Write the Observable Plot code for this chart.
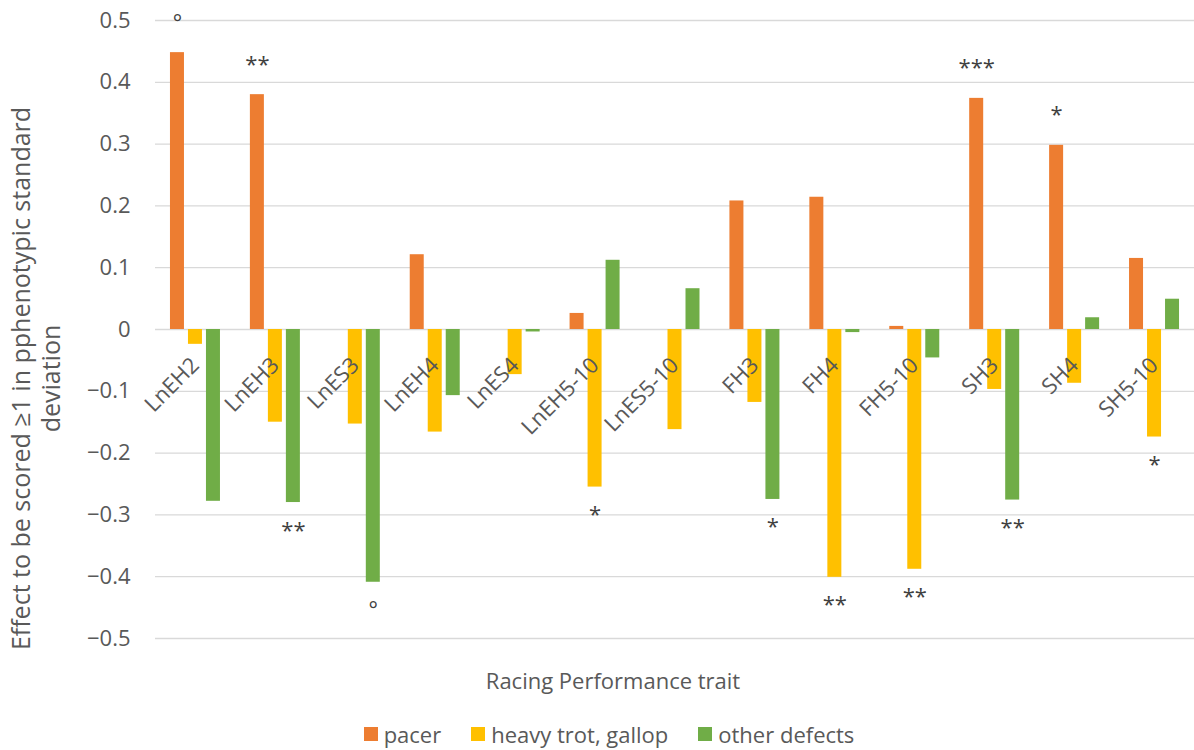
<!DOCTYPE html>
<html><head><meta charset="utf-8">
<script src="https://cdn.jsdelivr.net/npm/d3@7"></script>
<script src="https://cdn.jsdelivr.net/npm/@observablehq/plot@0.6"></script>
<style>
body{margin:0;background:#fff;font-family:"Open Sans",sans-serif;color:#595959;}
#legend{display:flex;justify-content:center;align-items:center;height:28px;margin-top:5px;padding-left:24px;font-size:22px;line-height:28px;}
.item{display:flex;align-items:center;margin:0 15px;}
.sw{width:14px;height:14px;margin-right:6px;}
</style></head><body><div id="chart"></div><div id="legend"></div>
<script>
const traits = ["LnEH2","LnEH3","LnES3","LnEH4","LnES4","LnEH5-10","LnES5-10","FH3","FH4","FH5-10","SH3","SH4","SH5-10"];
const seriesNames = ["pacer","heavy trot, gallop","other defects"];
const pacer        = [0.448, 0.380, 0, 0.121, 0, 0.026, 0, 0.208, 0.214, 0.005, 0.374, 0.298, 0.115];
const heavyTrot    = [-0.024,-0.150,-0.153,-0.166,-0.073,-0.255,-0.162,-0.118,-0.401,-0.388,-0.097,-0.087,-0.174];
const otherDefects = [-0.278,-0.280,-0.409,-0.107,-0.004, 0.112, 0.066,-0.275,-0.005,-0.046,-0.276, 0.019, 0.049];
const seriesValues = [pacer, heavyTrot, otherDefects];
const colors = ["#ED7D31","#FFC000","#70AD47"];
const yTicks = [-0.5,-0.4,-0.3,-0.2,-0.1,0,0.1,0.2,0.3,0.4,0.5];
// significance marks
const sigTrait  = ["LnEH2","LnEH3","LnEH3","LnES3","LnEH5-10","FH3","FH4","FH5-10","SH3","SH3","SH4","SH5-10"];
const sigSeries = [0,0,2,2,1,2,1,1,0,2,0,1];
const sigLabel  = ["°","**","**","°","*","*","**","**","***","**","*","*"];
const yTitle = "Effect to be scored ≥1 in pphenotypic standard\ndeviation";
const xTitle = "Racing Performance trait";

const W = 1194, H = 715, mL = 155, mR = 0, mT = 20, mB = 77;
const barW = 14, step = 18;
const bw = (W - mL - mR) / traits.length;
const inset = (bw - barW) / 2;
const offsets = [-step, 0, step];

const rows = [];
seriesValues.forEach((vals, s) => vals.forEach((v, i) => rows.push({trait: traits[i], series: s, value: v})));
const sigRows = sigTrait.map((t, k) => {
  const s = sigSeries[k];
  return {trait: t, series: s, label: sigLabel[k], value: seriesValues[s][traits.indexOf(t)]};
});

const marks = [
  Plot.ruleY(yTicks, {stroke: "#d9d9d9", strokeWidth: 1.3}),
];
for (let s = 0; s < 3; s++) {
  marks.push(Plot.barY(rows.filter(d => d.series === s), {
    x: "trait", y: "value", fill: colors[s], dx: offsets[s], insetLeft: inset, insetRight: inset
  }));
}
marks.push(Plot.text(traits, {x: d => d, y: 0, text: d => d, rotate: -45, textAnchor: "end", dx: 0, dy: 32, fontSize: 22, fill: "#595959"}));
for (let s = 0; s < 3; s++) {
  marks.push(Plot.text(sigRows.filter(d => d.series === s && d.value > 0), {
    x: "trait", y: "value", text: "label", dx: offsets[s], dy: -30, fontSize: 22, fill: "#404040"
  }));
  marks.push(Plot.text(sigRows.filter(d => d.series === s && d.value < 0), {
    x: "trait", y: "value", text: "label", dx: offsets[s], dy: 28, fontSize: 22, fill: "#404040"
  }));
}
marks.push(Plot.axisY({ticks: yTicks, tickSize: 0, tickPadding: 25, fontSize: 22, label: null,
  tickFormat: d => d === 0 ? "0" : d3.format(".1f")(d)}));
marks.push(Plot.text([xTitle], {frameAnchor: "bottom", dx: -62, dy: 50, fontSize: 22, fill: "#595959"}));
marks.push(Plot.text([yTitle], {frameAnchor: "left", textAnchor: "middle", rotate: -90, dx: -120, dy: 49, fontSize: 25, lineHeight: 1.2, fill: "#595959"}));

const chart = Plot.plot({
  width: W, height: H,
  marginLeft: mL, marginRight: mR, marginTop: mT, marginBottom: mB,
  style: {fontFamily: "'Open Sans', sans-serif", color: "#595959", background: "#fff", overflow: "visible"},
  x: {domain: traits, padding: 0, round: false, axis: null},
  y: {domain: [-0.5, 0.5], axis: null},
  marks
});
document.getElementById("chart").appendChild(chart);

const legend = document.getElementById("legend");
seriesNames.forEach((n, i) => {
  const it = document.createElement("div"); it.className = "item";
  const sw = document.createElement("div"); sw.className = "sw"; sw.style.background = colors[i];
  const tx = document.createElement("span"); tx.textContent = n;
  it.appendChild(sw); it.appendChild(tx); legend.appendChild(it);
});
</script></body></html>
